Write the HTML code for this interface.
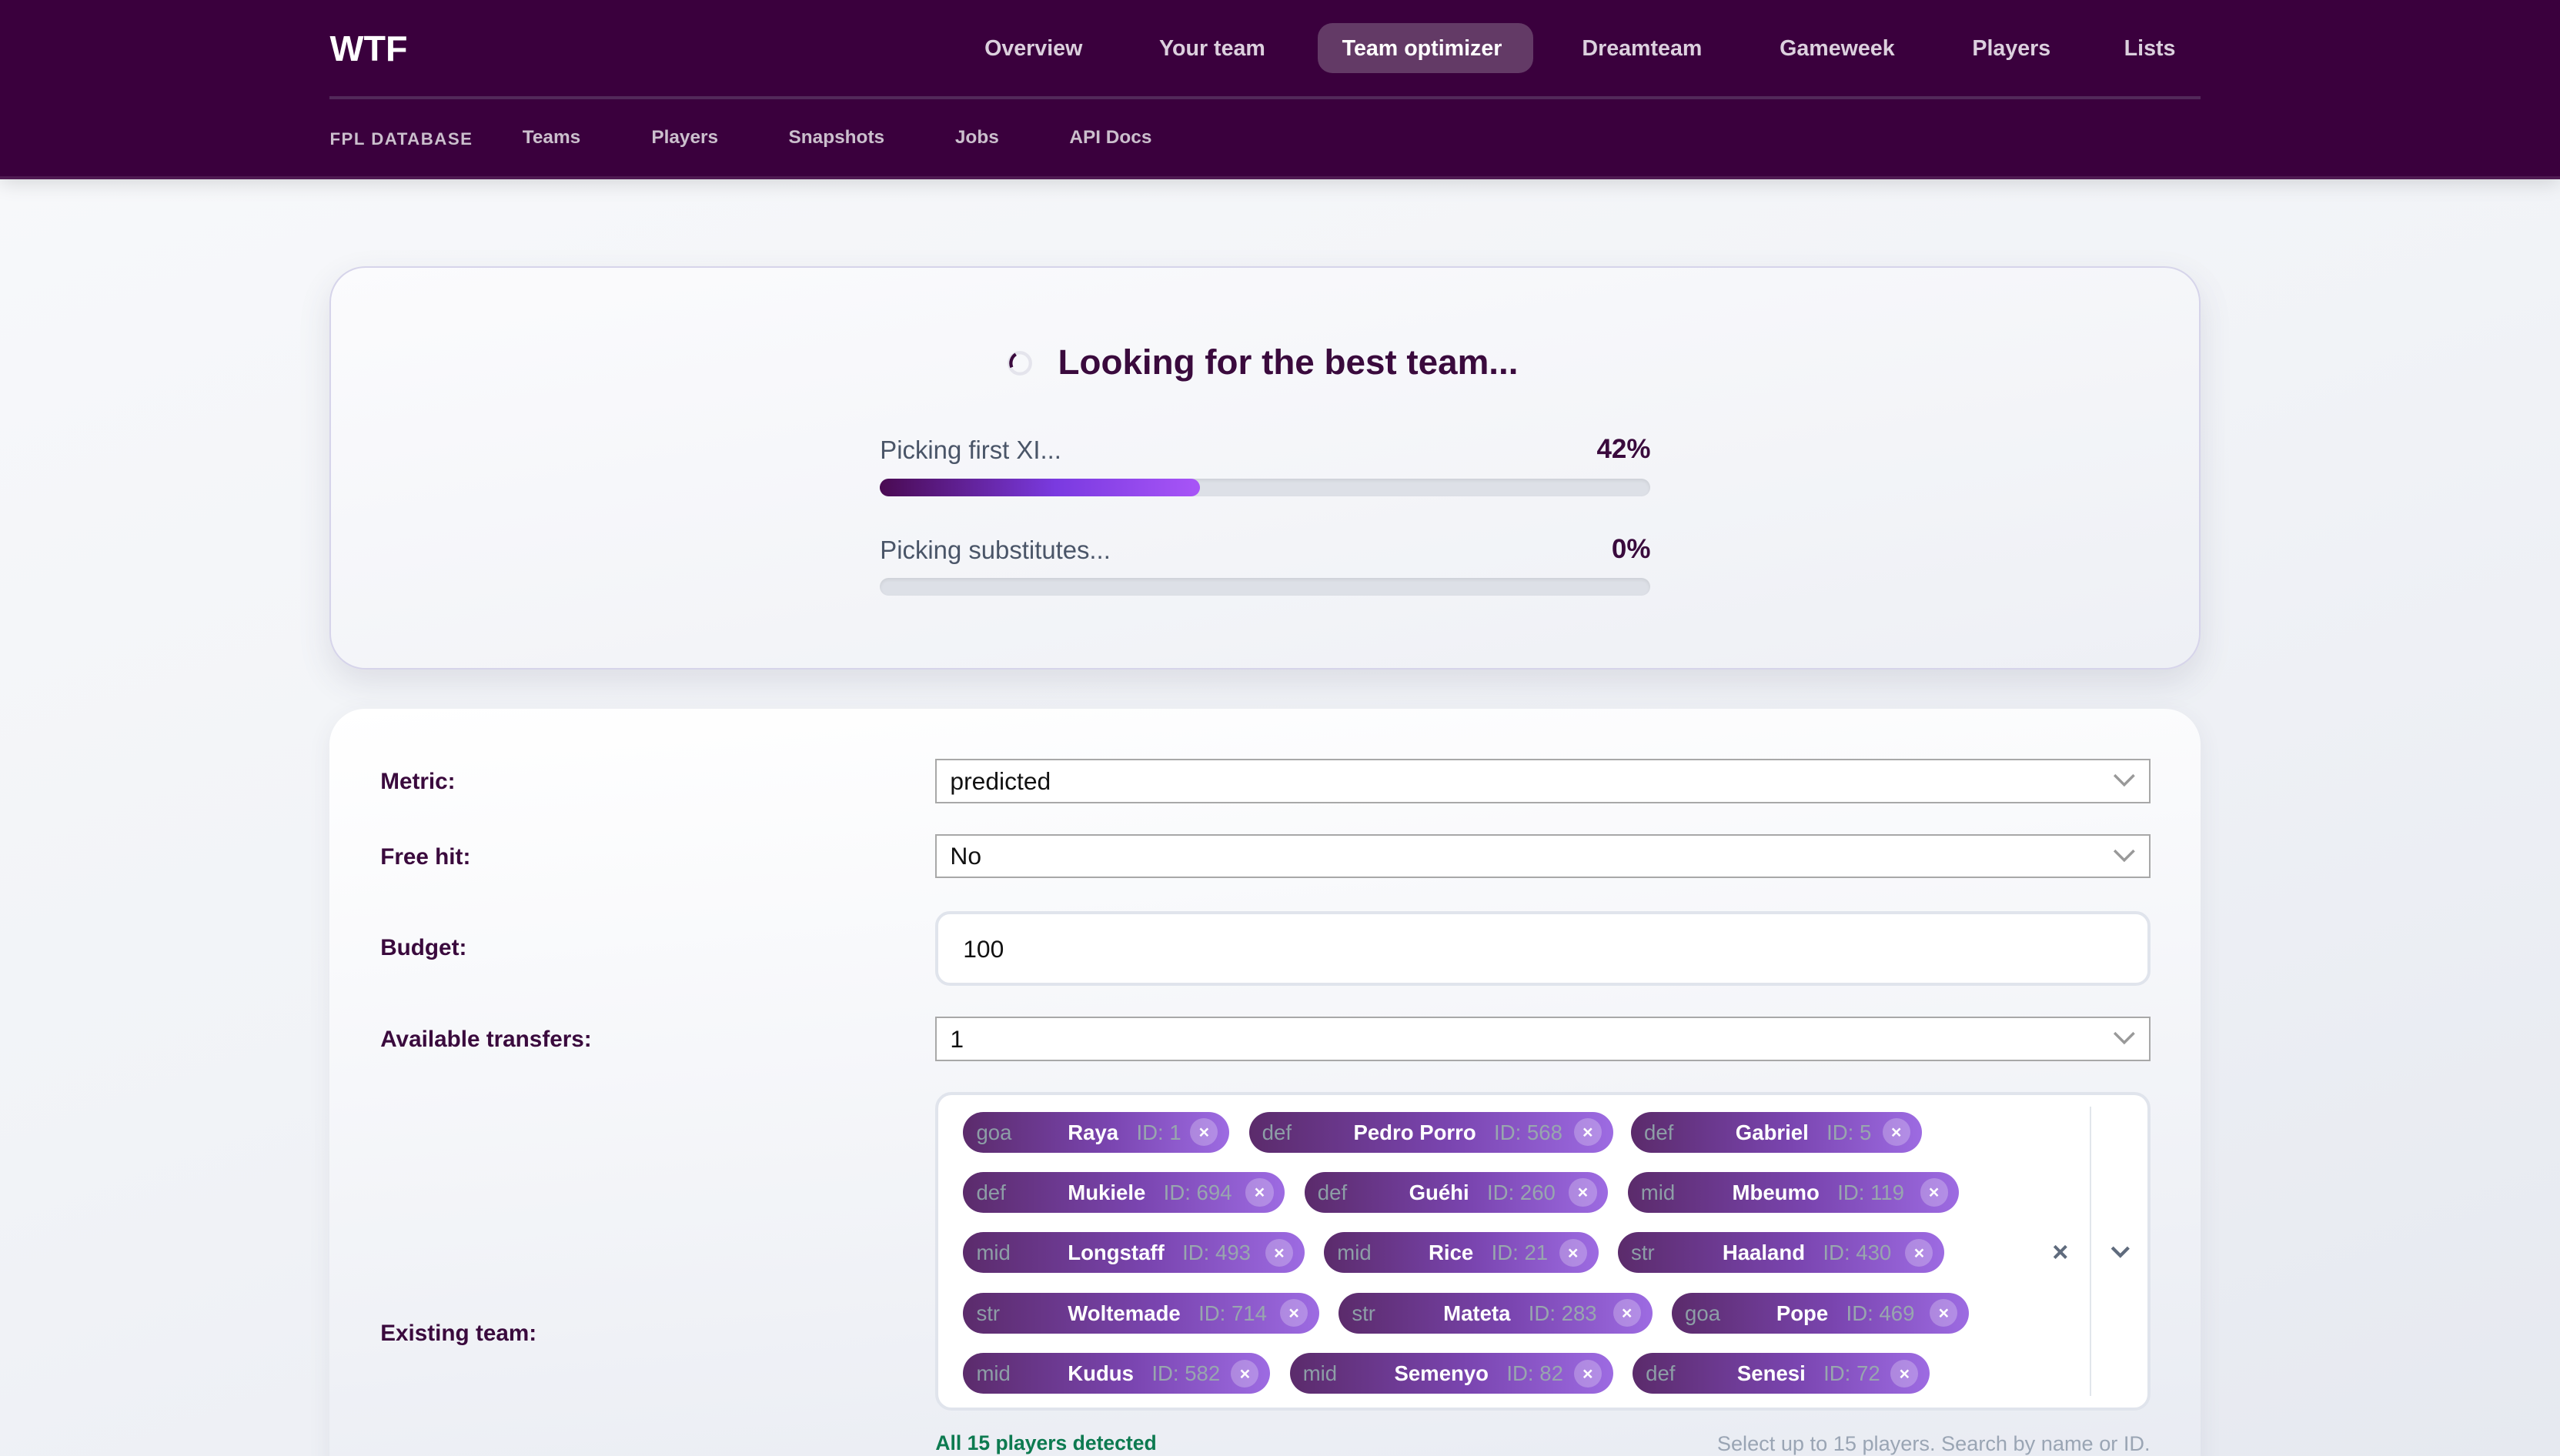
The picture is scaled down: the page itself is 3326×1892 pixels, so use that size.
<!DOCTYPE html>
<html><head><meta charset="utf-8"><style>
*{box-sizing:border-box;margin:0;padding:0}
html,body{width:3326px;height:1892px;overflow:hidden}
body{background:#eef0f5;font-family:"Liberation Sans",sans-serif}
#root{zoom:2.12117;width:1568px;height:892px;position:relative;overflow:hidden;background:linear-gradient(160deg,#f8f9fb 0%,#f1f3f7 50%,#e6e9f0 100%)}
.hdr{position:absolute;left:0;top:0;width:1568px;height:110px;background:#3a003d;border-bottom:2px solid #4f1a52;box-shadow:0 2px 12px rgba(0,0,0,.15)}
.a{position:absolute;white-space:nowrap}
.nav{top:22px;font-size:13.5px;font-weight:bold;color:#dcd0de}
.sub{top:78px;font-size:11.5px;font-weight:bold;color:#cbbfcd}
.card1{position:absolute;left:202px;top:163px;width:1146px;height:247px;border-radius:22px;border:1px solid #d6d4ea;background:linear-gradient(170deg,#fbfbfd,#eef0f5);box-shadow:0 8px 20px rgba(60,60,90,.12)}
.card2{position:absolute;left:202px;top:434px;width:1146px;height:480px;border-radius:22px;background:linear-gradient(175deg,#ffffff 0%,#f6f7fa 40%,#e8ebf2 100%);box-shadow:0 4px 14px rgba(60,60,90,.08)}
.lbl{font-size:14px;font-weight:bold;color:#3a0a3d}
.sel{position:absolute;left:573px;width:744px;height:27px;background:#fff;border:1px solid #a8a8a8;font-size:15px;color:#111;padding:4px 8px}
.sel svg{position:absolute;right:8px;top:8px}
.chip{position:absolute;height:25px;border-radius:13px;background:linear-gradient(90deg,#5b2b6b 0%,#7a45b0 55%,#9d6be2 100%);font-size:13px;line-height:25px}
.chip .p{position:absolute;left:8px;color:#8d9ea6}
.chip .n{position:absolute;left:64px;color:#fff;font-weight:bold}
.chip .n span{color:#98a6ae;font-weight:normal;margin-left:11px}
.chip .x{position:absolute;right:7px;top:4px;width:17px;height:17px;border-radius:50%;background:rgba(255,255,255,.25);color:#fff;font-size:11px;line-height:17px;text-align:center;font-weight:bold}
</style></head><body><div id="root">
<div class="hdr">
<div class="a" style="left:202px;top:17px;font-size:22px;font-weight:bold;color:#fff">WTF</div>
<div class="a" style="left:807px;top:14px;width:132px;height:31px;border-radius:9px;background:#633a66"></div>
<div class="a nav" style="left:603px">Overview</div>
<div class="a nav" style="left:710px">Your team</div>
<div class="a nav" style="left:822px;color:#fff">Team optimizer</div>
<div class="a nav" style="left:969px">Dreamteam</div>
<div class="a nav" style="left:1090px">Gameweek</div>
<div class="a nav" style="left:1208px">Players</div>
<div class="a nav" style="left:1301px">Lists</div>
<div class="a" style="left:202px;top:59px;width:1146px;height:2px;background:#52295a"></div>
<div class="a sub" style="left:202px;font-size:10.5px;letter-spacing:.7px;top:79px">FPL DATABASE</div>
<div class="a sub" style="left:320px">Teams</div>
<div class="a sub" style="left:399px">Players</div>
<div class="a sub" style="left:483px">Snapshots</div>
<div class="a sub" style="left:585px">Jobs</div>
<div class="a sub" style="left:655px">API Docs</div>
</div>

<div class="card1"></div>
<svg class="a" style="left:616px;top:214px" width="17" height="17" viewBox="0 0 17 17"><circle cx="8.5" cy="8.5" r="6.5" fill="none" stroke="#e4e4ec" stroke-width="2"/><path d="M3.5 11 A6.5 6.5 0 0 1 6 3" fill="none" stroke="#3a0a3d" stroke-width="2"/></svg>
<div class="a" style="left:648px;top:210px;font-size:21.6px;font-weight:bold;color:#3a0a3d">Looking for the best team...</div>
<div class="a" style="left:539px;top:267px;font-size:15.5px;color:#4a5568">Picking first XI...</div>
<div class="a" style="left:900px;width:111px;text-align:right;top:266px;font-size:16.5px;font-weight:bold;color:#3a0a3d">42%</div>
<div class="a" style="left:539px;top:293px;width:472px;height:11px;border-radius:6px;background:#dde0e7;box-shadow:inset 0 1px 2px rgba(0,0,0,.08)"></div>
<div class="a" style="left:539px;top:293px;width:196px;height:11px;border-radius:6px;background:linear-gradient(90deg,#4a0a52,#7a3ae0 55%,#a855f7)"></div>
<div class="a" style="left:539px;top:328px;font-size:15.5px;color:#4a5568">Picking substitutes...</div>
<div class="a" style="left:900px;width:111px;text-align:right;top:327px;font-size:16.5px;font-weight:bold;color:#3a0a3d">0%</div>
<div class="a" style="left:539px;top:354px;width:472px;height:11px;border-radius:6px;background:#dde0e7;box-shadow:inset 0 1px 2px rgba(0,0,0,.08)"></div>

<div class="card2"></div>
<div class="a lbl" style="left:233px;top:471px">Metric:</div>
<div class="a lbl" style="left:233px;top:517px">Free hit:</div>
<div class="a lbl" style="left:233px;top:573px">Budget:</div>
<div class="a lbl" style="left:233px;top:629px">Available transfers:</div>
<div class="a lbl" style="left:233px;top:809px">Existing team:</div>
<div class="sel" style="top:465px">predicted<svg width="14" height="9"><path d="M1 1 L7 7 L13 1" fill="none" stroke="#999" stroke-width="1.6"/></svg></div>
<div class="sel" style="top:511px">No<svg width="14" height="9"><path d="M1 1 L7 7 L13 1" fill="none" stroke="#999" stroke-width="1.6"/></svg></div>
<div class="a" style="left:573px;top:558px;width:744px;height:46px;border-radius:9px;border:2px solid #e0e4ec;background:#fff;font-size:15px;color:#111;padding:13px 15px">100</div>
<div class="sel" style="top:623px">1<svg width="14" height="9"><path d="M1 1 L7 7 L13 1" fill="none" stroke="#999" stroke-width="1.6"/></svg></div>

<div class="a" style="left:573px;top:669px;width:744px;height:195px;border-radius:10px;border:2px solid #e0e4ec;background:#fff"></div>
<div class="a" style="left:1280px;top:678px;width:1px;height:177px;background:#e2e6ec"></div>
<div class="a" style="left:1257px;top:757px;font-size:17px;font-weight:bold;color:#5f6b7d">×</div>
<svg class="a" style="left:1292px;top:763px" width="13" height="9"><path d="M1.5 1.5 L6.5 6.5 L11.5 1.5" fill="none" stroke="#5f6b7d" stroke-width="2"/></svg>

<div class="chip" style="left:590px;top:681px;width:163px"><span class="p">goa</span><span class="n">Raya<span>ID: 1</span></span><span class="x">×</span></div>
<div class="chip" style="left:765px;top:681px;width:223px"><span class="p">def</span><span class="n">Pedro Porro<span>ID: 568</span></span><span class="x">×</span></div>
<div class="chip" style="left:999px;top:681px;width:178px"><span class="p">def</span><span class="n">Gabriel<span>ID: 5</span></span><span class="x">×</span></div>

<div class="chip" style="left:590px;top:718px;width:197px"><span class="p">def</span><span class="n">Mukiele<span>ID: 694</span></span><span class="x">×</span></div>
<div class="chip" style="left:799px;top:718px;width:186px"><span class="p">def</span><span class="n">Guéhi<span>ID: 260</span></span><span class="x">×</span></div>
<div class="chip" style="left:997px;top:718px;width:203px"><span class="p">mid</span><span class="n">Mbeumo<span>ID: 119</span></span><span class="x">×</span></div>

<div class="chip" style="left:590px;top:755px;width:209px"><span class="p">mid</span><span class="n">Longstaff<span>ID: 493</span></span><span class="x">×</span></div>
<div class="chip" style="left:811px;top:755px;width:168px"><span class="p">mid</span><span class="n">Rice<span>ID: 21</span></span><span class="x">×</span></div>
<div class="chip" style="left:991px;top:755px;width:200px"><span class="p">str</span><span class="n">Haaland<span>ID: 430</span></span><span class="x">×</span></div>

<div class="chip" style="left:590px;top:792px;width:218px"><span class="p">str</span><span class="n">Woltemade<span>ID: 714</span></span><span class="x">×</span></div>
<div class="chip" style="left:820px;top:792px;width:192px"><span class="p">str</span><span class="n">Mateta<span>ID: 283</span></span><span class="x">×</span></div>
<div class="chip" style="left:1024px;top:792px;width:182px"><span class="p">goa</span><span class="n">Pope<span>ID: 469</span></span><span class="x">×</span></div>

<div class="chip" style="left:590px;top:829px;width:188px"><span class="p">mid</span><span class="n">Kudus<span>ID: 582</span></span><span class="x">×</span></div>
<div class="chip" style="left:790px;top:829px;width:198px"><span class="p">mid</span><span class="n">Semenyo<span>ID: 82</span></span><span class="x">×</span></div>
<div class="chip" style="left:1000px;top:829px;width:182px"><span class="p">def</span><span class="n">Senesi<span>ID: 72</span></span><span class="x">×</span></div>

<div class="a" style="left:573px;top:877px;font-size:12.5px;font-weight:bold;color:#0d7a50">All 15 players detected</div>
<div class="a" style="left:917px;width:400px;text-align:right;top:877px;font-size:12.8px;color:#9aa5b4">Select up to 15 players. Search by name or ID.</div>
</div></body></html>
